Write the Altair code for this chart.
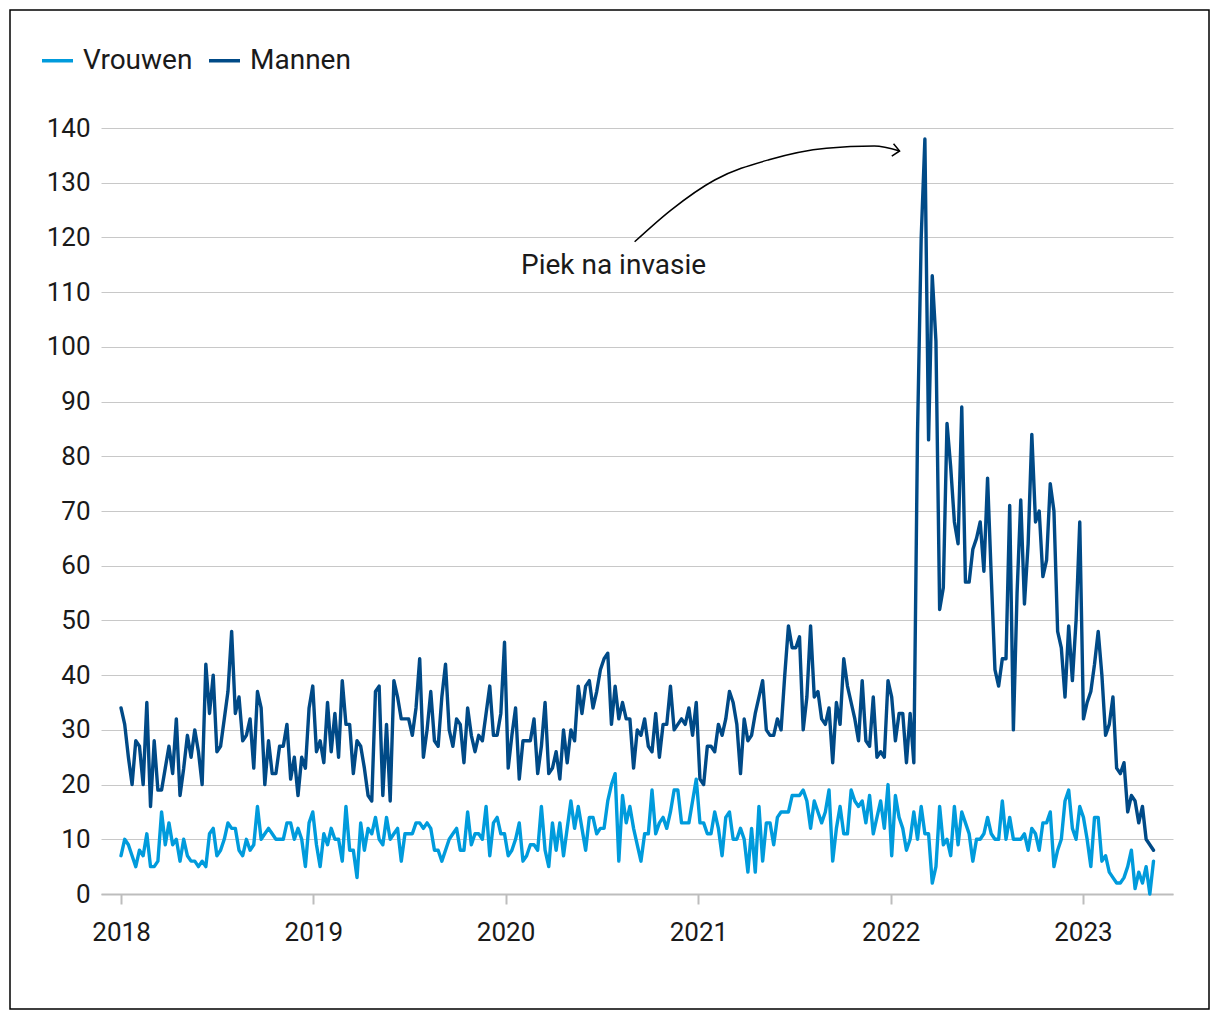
import altair as alt
import pandas as pd

# ---- data (weekly counts) ----
mannen = [
    34, 31, 25, 20, 28, 27, 20, 35, 16, 28,
    19, 19, 23, 27, 22, 32, 18, 23, 29, 25,
    30, 26, 20, 42, 33, 40, 26, 27, 32, 37,
    48, 33, 36, 28, 29, 32, 23, 37, 34, 20,
    28, 22, 22, 27, 27, 31, 21, 25, 18, 25,
    23, 34, 38, 26, 28, 24, 35, 26, 33, 25,
    39, 31, 31, 22, 28, 27, 23, 18, 17, 37,
    38, 18, 31, 17, 39, 36, 32, 32, 32, 29,
    34, 43, 25, 30, 37, 28, 27, 36, 42, 30,
    27, 32, 31, 24, 34, 29, 26, 29, 28, 33,
    38, 29, 29, 33, 46, 23, 29, 34, 21, 28,
    28, 28, 32, 22, 27, 35, 22, 23, 26, 21,
    30, 24, 30, 28, 38, 33, 38, 39, 34, 37,
    41, 43, 44, 31, 38, 32, 35, 32, 32, 23,
    30, 29, 32, 27, 26, 33, 25, 31, 31, 38,
    30, 31, 32, 31, 34, 29, 35, 21, 20, 27,
    27, 26, 31, 29, 32, 37, 35, 31, 22, 32,
    28, 29, 33, 36, 39, 30, 29, 29, 32, 30,
    40, 49, 45, 45, 47, 30, 36, 49, 36, 37,
    32, 31, 34, 24, 35, 31, 43, 38, 35, 32,
    28, 39, 28, 27, 36, 25, 26, 25, 39, 36,
    28, 33, 33, 24, 33, 24, 84, 120, 138, 83,
    113, 101, 52, 56, 86, 78, 68, 64, 89, 57,
    57, 63, 65, 68, 59, 76, 58, 41, 38, 43,
    43, 71, 30, 55, 72, 53, 64, 84, 68, 70,
    58, 61, 75, 70, 48, 45, 36, 49, 39, 50,
    68, 32, 35, 37, 42, 48, 40, 29, 31, 36,
    23, 22, 24, 15, 18, 17, 13, 16, 10, 9, 8,
]

vrouwen = [
    7, 10, 9, 7, 5, 8, 7, 11, 5, 5,
    6, 15, 9, 13, 9, 10, 6, 10, 7, 6,
    6, 5, 6, 5, 11, 12, 7, 8, 10, 13,
    12, 12, 8, 7, 10, 8, 9, 16, 10, 11,
    12, 11, 10, 10, 10, 13, 13, 10, 12, 10,
    5, 13, 15, 9, 5, 11, 9, 12, 10, 10,
    6, 16, 8, 8, 3, 13, 8, 12, 11, 14,
    10, 9, 14, 10, 11, 12, 6, 11, 11, 11,
    13, 13, 12, 13, 12, 8, 8, 6, 8, 10,
    11, 12, 8, 8, 15, 9, 11, 11, 10, 16,
    7, 13, 14, 11, 11, 7, 8, 10, 13, 6,
    7, 9, 9, 8, 16, 8, 5, 13, 8, 13,
    7, 12, 17, 12, 16, 12, 8, 14, 14, 11,
    12, 12, 17, 20, 22, 6, 18, 13, 16, 12,
    9, 6, 11, 11, 19, 11, 13, 14, 12, 15,
    19, 19, 13, 13, 13, 17, 21, 13, 13, 11,
    11, 15, 12, 7, 14, 15, 10, 10, 12, 10,
    4, 12, 4, 16, 6, 13, 13, 9, 14, 15,
    15, 15, 18, 18, 18, 19, 17, 12, 17, 15,
    13, 15, 19, 6, 12, 16, 11, 11, 19, 17,
    16, 17, 13, 18, 11, 14, 17, 12, 20, 7,
    18, 14, 12, 8, 10, 15, 10, 16, 11, 11,
    2, 5, 16, 9, 10, 7, 16, 9, 15, 13,
    11, 6, 10, 10, 11, 14, 11, 10, 10, 17,
    10, 14, 10, 10, 10, 11, 8, 12, 11, 8,
    13, 13, 15, 5, 8, 10, 17, 19, 12, 10,
    16, 14, 10, 5, 14, 14, 6, 7, 4, 3,
    2, 2, 3, 5, 8, 1, 4, 2, 5, 0, 6,
]

series_names = ["Vrouwen", "Mannen"]
series_colors = ["#009bdc", "#004a87"]
year_ticks = [2018, 2019, 2020, 2021, 2022, 2023]
y_ticks = list(range(0, 141, 10))

annot_text = ["Piek na invasie"]
annot_date = ["2020-07-24"]
annot_value = [114.8]

arrow_dates = ["2020-09-02", "2020-11-10", "2021-02-01", "2021-05-15",
               "2021-09-01", "2021-12-01", "2022-01-18"]
arrow_values = [119.2, 125.0, 130.5, 134.2, 136.3, 136.7, 135.8]

# ---- build tables ----
dates = pd.date_range("2018-01-01", periods=len(mannen), freq="7D").strftime("%Y-%m-%d").tolist()
df = pd.DataFrame({
    "datum": dates + dates,
    "aantal": vrouwen + mannen,
    "groep": ["Vrouwen"] * len(vrouwen) + ["Mannen"] * len(mannen),
})
df_text = pd.DataFrame({"datum": annot_date, "aantal": annot_value, "tekst": annot_text})
df_arrow = pd.DataFrame({"datum": arrow_dates, "aantal": arrow_values})
df_head = df_arrow.tail(1)
df_box = pd.DataFrame({"k": [0]})

W, H = 1072, 766
FONT = "Roboto"

xscale = alt.Scale(
    type="utc",
    domain=[alt.DateTime(year=2017, month=11, date=24, utc=True),
            alt.DateTime(year=2023, month=6, date=21, utc=True)],
)
yscale = alt.Scale(domain=[0, 140], nice=False)

xaxis = alt.Axis(
    title=None,
    values=[alt.DateTime(year=y, month=1, date=1, utc=True) for y in year_ticks],
    format="%Y", formatType="utc",
    grid=False, domainColor="#bdbdbd", domainWidth=2,
    tickColor="#bdbdbd", tickWidth=2, tickSize=10,
    labelPadding=15, labelFontSize=26, labelFont=FONT, labelColor="#1a1a1a",
)
yaxis = alt.Axis(
    title=None, values=y_ticks, domain=False, ticks=False,
    grid=True, gridColor="#c8c8c8", gridWidth=1,
    labelPadding=11, labelFontSize=26, labelFont=FONT, labelColor="#1a1a1a",
)

lines = alt.Chart(df).mark_line(strokeWidth=3.4, strokeJoin="round", strokeCap="round").encode(
    x=alt.X("datum:T", scale=xscale, axis=xaxis),
    y=alt.Y("aantal:Q", scale=yscale, axis=yaxis),
    color=alt.Color(
        "groep:N",
        scale=alt.Scale(domain=series_names, range=series_colors),
        legend=alt.Legend(
            title=None, orient="none", legendX=-61, legendY=-85,
            direction="horizontal", symbolType="stroke", symbolSize=961,
            symbolStrokeWidth=3.5, labelFontSize=28, labelFont=FONT,
            labelColor="#1a1a1a", columnPadding=9, labelOffset=8, padding=0,
        ),
    ),
)

text = alt.Chart(df_text).mark_text(
    fontSize=28, font=FONT, align="center", baseline="middle", color="#1a1a1a"
).encode(
    x=alt.X("datum:T", scale=xscale),
    y=alt.Y("aantal:Q", scale=yscale),
    text="tekst:N",
)

arrow = alt.Chart(df_arrow).mark_line(
    color="black", strokeWidth=1.5, interpolate="monotone"
).encode(
    x=alt.X("datum:T", scale=xscale),
    y=alt.Y("aantal:Q", scale=yscale),
)

head = alt.Chart(df_head).mark_point(
    shape="M-1,-0.9L0,0L-1,0.9", filled=False, size=196, angle=8,
    color="black", strokeWidth=1.5, opacity=1,
).encode(
    x=alt.X("datum:T", scale=xscale),
    y=alt.Y("aantal:Q", scale=yscale),
)

box = alt.Chart(df_box).mark_rect(filled=False, color="black", strokeWidth=1.5).encode(
    x=alt.value(-91), x2=alt.value(W + 36),
    y=alt.value(-118), y2=alt.value(H + 115),
)

chart = alt.layer(lines, text, arrow, head, box).properties(
    width=W, height=H,
    padding={"left": 93, "top": 120, "right": 39, "bottom": 118},
    autosize=alt.AutoSizeParams(type="none"),
    background="white",
).configure(font=FONT, view=alt.ViewConfig(strokeWidth=0))

chart.save("out.html", embed_options={"renderer": "svg", "actions": False})
